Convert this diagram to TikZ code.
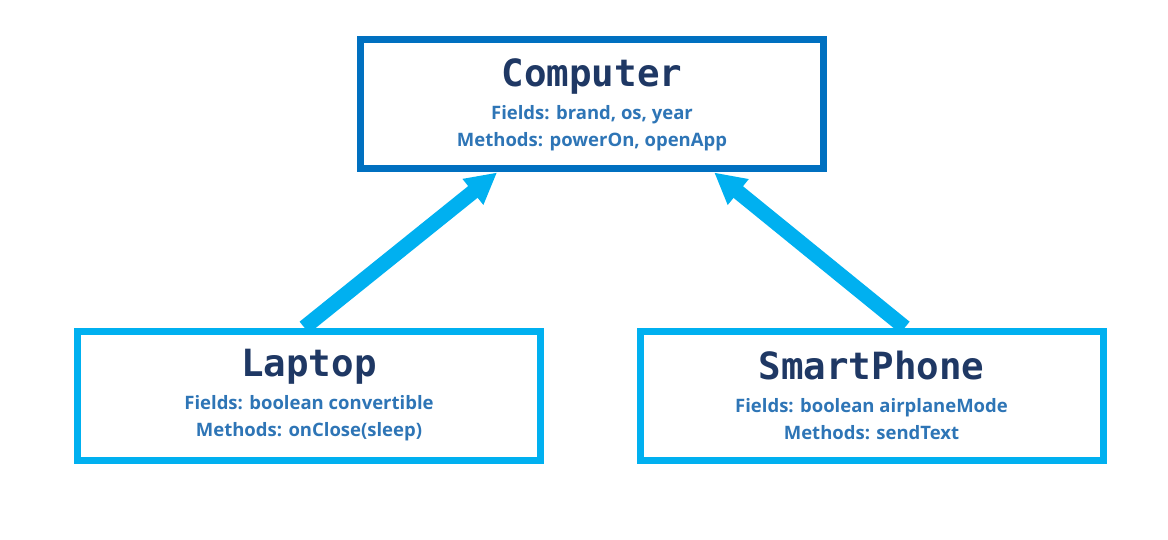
\documentclass[tikz,border=0pt]{standalone}
\usepackage{fontspec}
\setmainfont{Open Sans}
\newfontfamily\monofnt{DejaVu Sans Mono}
\usetikzlibrary{arrows.meta,calc,positioning}
\definecolor{parentblue}{HTML}{0070C0}
\definecolor{childblue}{HTML}{00B0F0}
\definecolor{titlenavy}{HTML}{1F3864}
\definecolor{textblue}{HTML}{2E75B6}
\newcommand{\classtitle}[1]{{\color{titlenavy}\monofnt\fontsize{37.5}{37.5}\selectfont\bfseries #1}\\[6pt]}

\begin{document}
\begin{tikzpicture}[x=1pt,y=-1pt,
classbox/.style={draw,line width=7pt,minimum width=463pt,minimum height=129pt,inner sep=0pt,
align=center,text=textblue,font=\fontsize{18.5}{27}\selectfont\bfseries},
parentbox/.style={classbox,draw=parentblue},
childbox/.style={classbox,draw=childblue},
inherit/.style={childblue,line width=15pt,-{Triangle[length=31pt,width=31pt]}}
]
\useasboundingbox (0,0) rectangle (1168,540);

\node[parentbox] (computer) at (592,104.5) {\classtitle{Computer}Fields: brand, os, year\\Methods: powerOn, openApp};
\node[childbox] (laptop) at (309,395.5) {\classtitle{Laptop}Fields: boolean convertible\\Methods: onClose(sleep)};
\node[childbox] (phone) at (871.5,395.5) {\classtitle{SmartPhone}Fields: boolean airplaneMode\\Methods: sendText};

% inheritance arrows
\draw[inherit] ($(laptop.north west)!0.49!(laptop.north east)$) -- ($(computer.south west)!0.298!(computer.south east)$);
\draw[inherit] ($(phone.north west)!0.571!(phone.north east)$) -- ($(computer.south west)!0.76!(computer.south east)$);
\end{tikzpicture}
\end{document}
